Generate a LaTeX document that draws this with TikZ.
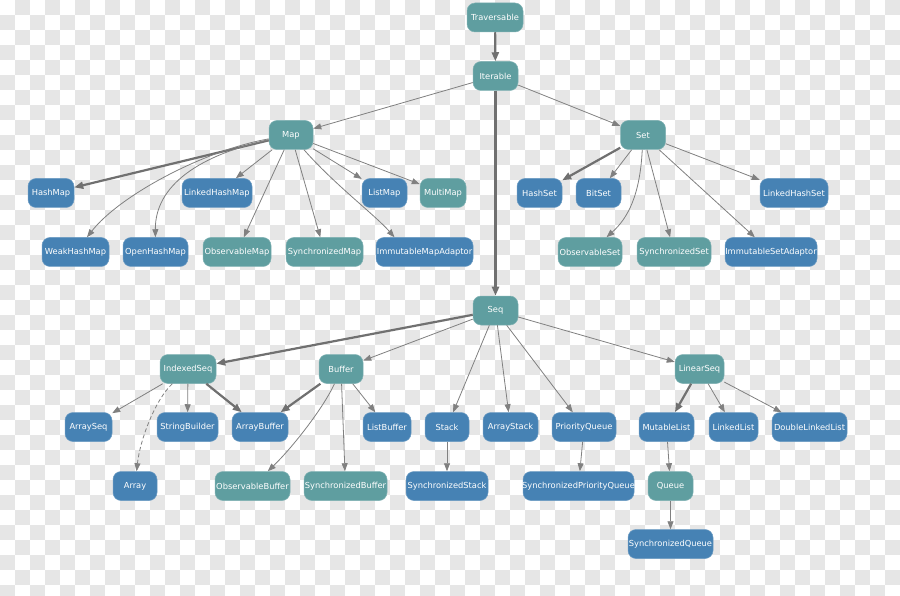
\documentclass[tikz,border=0pt]{standalone}
\usepackage{fontspec}
\newfontfamily\nodefont{DejaVu Sans}
\usetikzlibrary{arrows.meta}
\definecolor{tealfill}{RGB}{95,158,160}
\definecolor{bluefill}{RGB}{70,130,180}
\definecolor{edgegray}{RGB}{128,128,128}
\definecolor{heavygray}{RGB}{112,112,112}
\definecolor{checkgray}{RGB}{230,230,230}
% labels take no width, so each box keeps its set width
\newcommand\lbl[1]{\makebox[0pt]{#1}}

\begin{document}
\begin{tikzpicture}[x=1pt,y=-1pt,
  box/.style={rounded corners=8pt, minimum height=29pt, inner sep=0pt,
    text=white, font=\nodefont\fontsize{8.3}{10}\selectfont, line width=0.5pt},
  tealnode/.style={box, fill=tealfill, draw=tealfill!80!white},
  bluenode/.style={box, fill=bluefill, draw=bluefill!80!white},
  link/.style={draw=edgegray, line width=0.8pt, -{Triangle[length=8pt,width=6pt]}},
  heavylink/.style={draw=heavygray, line width=2.2pt, -{Triangle[length=9pt,width=7pt]}},
  dashedlink/.style={link, dash pattern=on 4pt off 2.5pt}
]
\useasboundingbox (0,0) rectangle (900,596);

% checkered backdrop
\begin{scope}
  \clip (0,0) rectangle (900,596);
  \fill[white] (0,0) rectangle (900,596);
  \foreach \j in {0,...,39}{
    \foreach \i in {0,...,59}{
      \pgfmathtruncatemacro\cellsum{\i+\j}
      \ifodd\cellsum \fill[checkgray] (\i*15,\j*15) rectangle ++(15,15); \fi
    }
  }
\end{scope}

% top of the hierarchy
\node[tealnode, minimum width=56pt] (Traversable) at (495,17.5) {\lbl{Traversable}};
\node[tealnode, minimum width=45pt] (Iterable) at (495.5,76) {\lbl{Iterable}};
\node[tealnode, minimum width=44pt] (Map) at (291,135) {\lbl{Map}};
\node[tealnode, minimum width=45pt] (Set) at (643,135) {\lbl{Set}};
\node[tealnode, minimum width=45pt] (Seq) at (495.5,310.5) {\lbl{Seq}};

% maps
\node[bluenode, minimum width=46pt] (HashMap) at (51,193) {\lbl{HashMap}};
\node[bluenode, minimum width=70pt] (LinkedHashMap) at (217,193) {\lbl{LinkedHashMap}};
\node[bluenode, minimum width=45pt] (ListMap) at (384.5,193) {\lbl{ListMap}};
\node[tealnode, minimum width=46pt] (MultiMap) at (443,193) {\lbl{MultiMap}};
\node[bluenode, minimum width=67pt] (WeakHashMap) at (75.5,252) {\lbl{WeakHashMap}};
\node[bluenode, minimum width=65pt] (OpenHashMap) at (155.5,252) {\lbl{OpenHashMap}};
\node[tealnode, minimum width=68pt] (ObservableMap) at (237,252) {\lbl{ObservableMap}};
\node[tealnode, minimum width=77pt] (SynchronizedMap) at (324.5,252) {\lbl{SynchronizedMap}};
\node[bluenode, minimum width=97pt] (ImmutableMapAdaptor) at (424.5,252) {\lbl{ImmutableMapAdaptor}};

% sets
\node[bluenode, minimum width=45pt] (HashSet) at (539.5,193) {\lbl{HashSet}};
\node[bluenode, minimum width=45pt] (BitSet) at (598.5,193) {\lbl{BitSet}};
\node[bluenode, minimum width=68pt] (LinkedHashSet) at (794,193) {\lbl{LinkedHashSet}};
\node[tealnode, minimum width=64pt] (ObservableSet) at (590,252) {\lbl{ObservableSet}};
\node[tealnode, minimum width=74pt] (SynchronizedSet) at (674,252) {\lbl{SynchronizedSet}};
\node[bluenode, minimum width=92pt] (ImmutableSetAdaptor) at (771,252) {\lbl{ImmutableSetAdaptor}};

% sequences
\node[tealnode, minimum width=56pt] (IndexedSeq) at (188,369) {\lbl{IndexedSeq}};
\node[tealnode, minimum width=44pt] (Buffer) at (341,369) {\lbl{Buffer}};
\node[tealnode, minimum width=49pt] (LinearSeq) at (699.5,369) {\lbl{LinearSeq}};
\node[bluenode, minimum width=47pt] (ArraySeq) at (88.5,427) {\lbl{ArraySeq}};
\node[bluenode, minimum width=61pt] (StringBuilder) at (187.5,427) {\lbl{StringBuilder}};
\node[bluenode, minimum width=56pt] (ArrayBuffer) at (260,427) {\lbl{ArrayBuffer}};
\node[bluenode, minimum width=48pt] (ListBuffer) at (387,427) {\lbl{ListBuffer}};
\node[bluenode, minimum width=44pt] (Stack) at (447,427) {\lbl{Stack}};
\node[bluenode, minimum width=55pt] (ArrayStack) at (510.5,427) {\lbl{ArrayStack}};
\node[bluenode, minimum width=64pt] (PriorityQueue) at (584,427) {\lbl{PriorityQueue}};
\node[bluenode, minimum width=55pt] (MutableList) at (666.5,427) {\lbl{MutableList}};
\node[bluenode, minimum width=49pt] (LinkedList) at (733.5,427) {\lbl{LinkedList}};
\node[bluenode, minimum width=75pt] (DoubleLinkedList) at (809.5,427) {\lbl{DoubleLinkedList}};
\node[bluenode, minimum width=44pt] (Array) at (135,486) {\lbl{Array}};
\node[tealnode, minimum width=75pt] (ObservableBuffer) at (252.5,486) {\lbl{ObservableBuffer}};
\node[tealnode, minimum width=83pt] (SynchronizedBuffer) at (345.5,486) {\lbl{SynchronizedBuffer}};
\node[bluenode, minimum width=82pt] (SynchronizedStack) at (447,486) {\lbl{SynchronizedStack}};
\node[bluenode, minimum width=111pt] (SynchronizedPriorityQueue) at (578.5,486) {\lbl{SynchronizedPriorityQueue}};
\node[tealnode, minimum width=45pt] (Queue) at (670.5,486) {\lbl{Queue}};
\node[bluenode, minimum width=85pt] (SynchronizedQueue) at (670.5,544) {\lbl{SynchronizedQueue}};

% inheritance links
\draw[heavylink] (Traversable) -- (Iterable);
\draw[link] (Iterable) -- (Map);
\draw[link] (Iterable) -- (Set);
\draw[heavylink] (Iterable) -- (Seq);

\draw[heavylink] (Map) -- (HashMap);
\draw[link] (Map) .. controls (205,150) and (120,195) .. (WeakHashMap);
\draw[link] (Map) .. controls (200,155) and (155,185) .. (OpenHashMap);
\draw[link] (Map) -- (LinkedHashMap);
\draw[link] (Map) -- (ObservableMap);
\draw[link] (Map) -- (SynchronizedMap);
\draw[link] (Map) -- (ListMap);
\draw[link] (Map) -- (MultiMap);
\draw[link] (Map) .. controls (335,185) and (375,215) .. ([xshift=-30pt]ImmutableMapAdaptor.north);

\draw[heavylink] (Set) -- (HashSet);
\draw[link] (Set) -- (BitSet);
\draw[link] (Set) .. controls (640,195) and (628,218) .. (ObservableSet);
\draw[link] (Set) -- (SynchronizedSet);
\draw[link] (Set) -- (ImmutableSetAdaptor);
\draw[link] (Set) -- (LinkedHashSet);

\draw[heavylink] (Seq) -- (IndexedSeq);
\draw[link] (Seq) -- (Buffer);
\draw[link] (Seq) -- (Stack);
\draw[link] (Seq) -- (ArrayStack);
\draw[link] (Seq) -- (PriorityQueue);
\draw[link] (Seq) -- (LinearSeq);

\draw[link] (IndexedSeq) -- (ArraySeq);
\draw[dashedlink] (IndexedSeq) .. controls (155,400) and (140,440) .. (Array);
\draw[link] (IndexedSeq) -- (StringBuilder);
\draw[heavylink] (IndexedSeq) -- (ArrayBuffer);

\draw[heavylink] (Buffer) -- (ArrayBuffer);
\draw[link] (Buffer) .. controls (325,405) and (295,445) .. (ObservableBuffer);
\draw[link] (Buffer) -- (SynchronizedBuffer);
\draw[link] (Buffer) -- (ListBuffer);

\draw[link] (Stack) -- (SynchronizedStack);
\draw[link] (PriorityQueue) -- (SynchronizedPriorityQueue);

\draw[heavylink] (LinearSeq) -- (MutableList);
\draw[link] (LinearSeq) -- (LinkedList);
\draw[link] (LinearSeq) -- (DoubleLinkedList);
\draw[link] (MutableList) -- (Queue);
\draw[link] (Queue) -- (SynchronizedQueue);
\end{tikzpicture}
\end{document}
